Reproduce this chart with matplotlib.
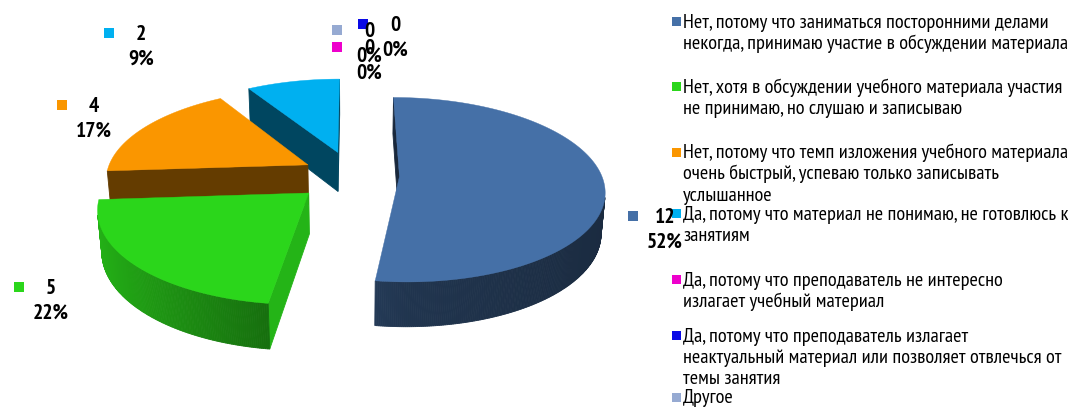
import numpy as np
import matplotlib
matplotlib.use("Agg")
import matplotlib.pyplot as plt
from matplotlib.patches import Polygon, Rectangle
from matplotlib import font_manager

# ---- data -------------------------------------------------------------
categories = [
    "Нет, потому что заниматься посторонними делами\nнекогда, принимаю участие в обсуждении материала",
    "Нет, хотя в обсуждении учебного материала участия\nне принимаю, но слушаю и записываю",
    "Нет, потому что темп изложения учебного материала\nочень быстрый, успеваю только записывать\nуслышанное",
    "Да, потому что материал не понимаю, не готовлюсь к\nзанятиям",
    "Да, потому что преподаватель не интересно\nизлагает учебный материал",
    "Да, потому что преподаватель излагает\nнеактуальный материал или позволяет отвлечься от\nтемы занятия",
    "Другое",
]
values = [12, 5, 4, 2, 0, 0, 0]

# ---- style ------------------------------------------------------------
colors = ["#4570A7", "#2BD61B", "#FA9600", "#00B0F0", "#EE00CC", "#0A0AE6", "#96AAD2"]
explode = [0.235, 0.285, 0.25, 0.27, 0.0, 0.0, 0.0]
radial_shade = [0.36, 0.84, 0.40, 0.40, 0.4, 0.4, 0.4]

# label anchors (pixel centre of the value line) and legend first-line rows
label_pos = [(665, 216), (51, 287), (94, 105), (141, 33), (369, 47), (395, 24), (369, 30)]
legend_rows = [21.5, 87, 152, 213.5, 279.5, 335.5, 397]

W, H = 1068, 419
available = {f.name for f in font_manager.fontManager.ttflist}
narrow = "DejaVu Sans"
for cand in ["Liberation Sans Narrow", "Arial Narrow", "PT Sans Narrow", "Roboto Condensed",
             "IBM Plex Sans Condensed", "Open Sans Condensed", "Liberation Sans"]:
    if cand in available:
        narrow = cand
        break
fam = [narrow, "DejaVu Sans"]

fig = plt.figure(figsize=(W / 100, H / 100), dpi=100)
ax = fig.add_axes([0, 0, 1, 1])
ax.set_xlim(0, W)
ax.set_ylim(H, 0)
ax.axis("off")
renderer = fig.canvas.get_renderer()


def fitted_size(sample, width_px, weight="normal", base=12.0):
    t = ax.text(0, 0, sample, fontsize=base, family=fam, fontweight=weight)
    w = t.get_window_extent(renderer).width
    t.remove()
    return base * width_px / w


legend_fs = fitted_size(categories[0].split("\n")[0], 364)
label_fs = fitted_size("52%", 36, weight="bold")

# ---- 3D pie projection ------------------------------------------------
CX, CY, S = 352.0, 175.0, 202.0
SIN_T = 0.445
COS_T = np.sqrt(1 - SIN_T ** 2)
DIST = 6.24
THICK = 0.225
CAM = np.array([0.0, -DIST * COS_T, DIST * SIN_T])


def project(X, Y, Z):
    X, Y, Z = np.asarray(X, float), np.asarray(Y, float), np.asarray(Z, float)
    depth = Y * COS_T - Z * SIN_T
    up = Y * SIN_T + Z * COS_T
    k = DIST / (DIST + depth)
    return CX + S * X * k, CY - S * up * k


def depth_of(X, Y, Z):
    return np.mean(np.asarray(Y) * COS_T - np.asarray(Z) * SIN_T)


def shade(hexcol, f):
    rgb = np.array(matplotlib.colors.to_rgb(hexcol))
    return tuple(np.clip(rgb * f, 0, 1))


def outer_factor(phi):
    s = -np.sin(phi)
    return 0.47 + (0.37 * s if s > 0 else 0.09 * s)


total = float(sum(values))
walls = []
tops = []
start = 0.0
for i, v in enumerate(values):
    span = 360.0 * v / total
    a0, a1 = start, start + span
    start = a1
    if v <= 0:
        continue
    mid = np.radians((a0 + a1) / 2)
    ox, oy = explode[i] * np.sin(mid), explode[i] * np.cos(mid)
    phis = np.radians(np.linspace(a0, a1, max(int(span * 2), 4)))
    rx, ry = ox + np.sin(phis), oy + np.cos(phis)

    # top face
    tx, ty = project(np.r_[ox, rx], np.r_[oy, ry], np.zeros(len(rx) + 1))
    tops.append((np.column_stack([tx, ty]), colors[i]))

    # curved outer wall
    for j in range(len(phis) - 1):
        pm = 0.5 * (phis[j] + phis[j + 1])
        n = np.array([np.sin(pm), np.cos(pm), 0.0])
        c = np.array([ox + np.sin(pm), oy + np.cos(pm), -THICK / 2])
        if np.dot(CAM - c, n) <= 0:
            continue
        X = [rx[j], rx[j + 1], rx[j + 1], rx[j]]
        Y = [ry[j], ry[j + 1], ry[j + 1], ry[j]]
        Z = [0, 0, -THICK, -THICK]
        px, py = project(X, Y, Z)
        walls.append((depth_of(X, Y, Z), np.column_stack([px, py]),
                      shade(colors[i], outer_factor(pm))))

    # radial walls
    for ang, sgn in ((a0, -1), (a1, 1)):
        a = np.radians(ang)
        na = a + sgn * np.pi / 2
        n = np.array([np.sin(na), np.cos(na), 0.0])
        ex, ey = ox + np.sin(a), oy + np.cos(a)
        c = np.array([(ox + ex) / 2, (oy + ey) / 2, -THICK / 2])
        if np.dot(CAM - c, n) <= 0:
            continue
        X = [ox, ex, ex, ox]
        Y = [oy, ey, ey, oy]
        Z = [0, 0, -THICK, -THICK]
        px, py = project(X, Y, Z)
        walls.append((depth_of(X, Y, Z), np.column_stack([px, py]),
                      shade(colors[i], radial_shade[i])))

for d, xy, col in sorted(walls, key=lambda w: -w[0]):
    ax.add_patch(Polygon(xy, closed=True, facecolor=col, edgecolor=col, lw=0.6))
for xy, col in tops:
    ax.add_patch(Polygon(xy, closed=True, facecolor=col, edgecolor=col, lw=0.3))

# ---- data labels ------------------------------------------------------
for i, v in enumerate(values):
    x, y = label_pos[i]
    pct = int(round(100 * v / total))
    ax.add_patch(Rectangle((x - 37, y - 5), 10, 10, facecolor=colors[i], edgecolor="none"))
    ax.text(x, y + 7, f"{v}", ha="center", va="baseline", fontsize=label_fs,
            fontweight="bold", family=fam, color="black")
    ax.text(x, y + 32, f"{pct}%", ha="center", va="baseline", fontsize=label_fs,
            fontweight="bold", family=fam, color="black")

# ---- legend -----------------------------------------------------------
for i, lab in enumerate(categories):
    y0 = legend_rows[i]
    ax.add_patch(Rectangle((672, y0 - 4.5), 9, 9, facecolor=colors[i], edgecolor="none"))
    for k, line in enumerate(lab.split("\n")):
        ax.text(683, y0 + k * 21.3 + 6, line, ha="left", va="baseline",
                fontsize=legend_fs, family=fam, color="black")

fig.savefig("out.png", dpi=100)
